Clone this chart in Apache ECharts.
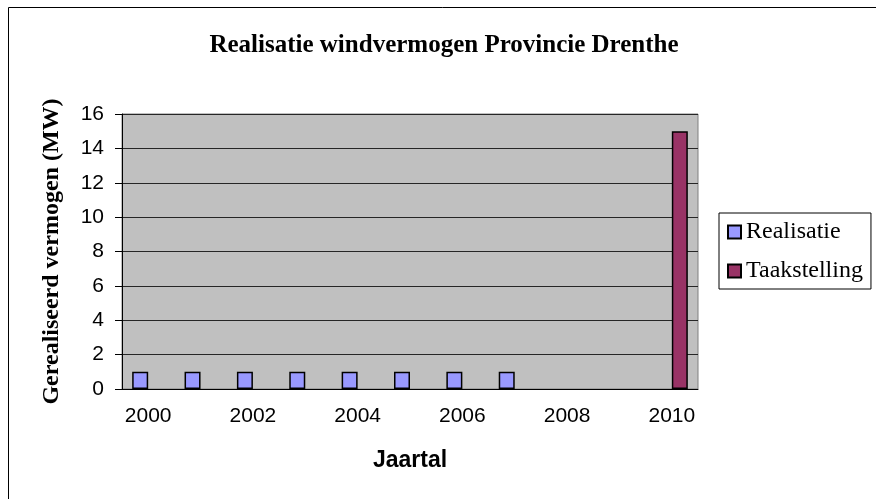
<!DOCTYPE html>
<html>
<head>
<meta charset="utf-8">
<script src="https://cdn.jsdelivr.net/npm/echarts@6/dist/echarts.min.js"></script>
<style>
  html, body { margin: 0; padding: 0; background: #fff; }
  #windChart { width: 876px; height: 499px; }
</style>
</head>
<body>
<div id="windChart"></div>
<script>
// jaartallen en waarden (MW)
const years = ["2000", "2001", "2002", "2003", "2004", "2005", "2006", "2007", "2008", "2009", "2010"];
const realisatie = [1, 1, 1, 1, 1, 1, 1, 1, null, null, null];
const taakstelling = [null, null, null, null, null, null, null, null, null, null, 15];
const yMin = 0;
const yMax = 16;
const yStep = 2;

const serif = "Liberation Serif";
const sans = "Liberation Sans";

const windChart = echarts.init(document.getElementById("windChart"));

const options = {
  animation: false,
  backgroundColor: "#fff",
  title: {
    text: "Realisatie windvermogen Provincie Drenthe",
    left: 439,
    top: 28,
    textAlign: "center",
    textStyle: {
      fontFamily: serif,
      fontWeight: "bold",
      fontSize: 25,
      color: "#000",
    },
  },
  graphic: [
    {
      // rand om de hele grafiek
      type: "rect",
      shape: { x: 8.5, y: 7.5, width: 1000, height: 1000 },
      style: { fill: "none", stroke: "#000", lineWidth: 1 },
      silent: true,
    },
  ],
  legend: {
    orient: "vertical",
    left: 719,
    top: 213,
    padding: [7, 8, 6, 8],
    itemGap: 15,
    itemWidth: 13,
    itemHeight: 13,
    itemTextGap: 3,
    icon: "rect",
    borderColor: "#000",
    borderWidth: 1,
    textStyle: {
      fontFamily: serif,
      fontSize: 24,
      color: "#000",
    },
    data: ["Realisatie", "Taakstelling"],
  },
  grid: {
    left: 122,
    right: 178,
    top: 114,
    bottom: 110,
    show: true,
    backgroundColor: "#c0c0c0",
    borderColor: "#808080",
    borderWidth: 1,
  },
  xAxis: {
    type: "category",
    data: years,
    name: "Jaartal",
    nameLocation: "middle",
    nameGap: 60,
    nameTextStyle: {
      fontFamily: sans,
      fontWeight: "bold",
      fontSize: 23,
      color: "#000",
    },
    axisLine: { lineStyle: { color: "#000", width: 1 } },
    axisTick: { interval: 0, length: 6, lineStyle: { color: "#000" } },
    axisLabel: {
      interval: 1,
      margin: 17,
      fontFamily: sans,
      fontSize: 21,
      color: "#000",
    },
  },
  yAxis: {
    type: "value",
    min: yMin,
    max: yMax,
    interval: yStep,
    name: "Gerealiseerd vermogen (MW)",
    nameLocation: "middle",
    nameGap: 58,
    nameTextStyle: {
      fontFamily: serif,
      fontWeight: "bold",
      fontSize: 24,
      color: "#000",
    },
    axisLine: { show: true, lineStyle: { color: "#000", width: 1 } },
    axisTick: { show: true, length: 7, lineStyle: { color: "#000" } },
    axisLabel: {
      margin: 18,
      fontFamily: sans,
      fontSize: 21,
      color: "#000",
    },
    splitLine: { lineStyle: { color: "#262626", width: 1 } },
  },
  series: [
    {
      name: "Realisatie",
      type: "bar",
      data: realisatie,
      barWidth: 16,
      barGap: "0%",
      itemStyle: { color: "#9999ff", borderColor: "#000", borderWidth: 1.5 },
    },
    {
      name: "Taakstelling",
      type: "bar",
      data: taakstelling,
      barWidth: 16,
      barGap: "0%",
      itemStyle: { color: "#993366", borderColor: "#000", borderWidth: 1.5 },
    },
  ],
};

windChart.setOption(options);
</script>
</body>
</html>
